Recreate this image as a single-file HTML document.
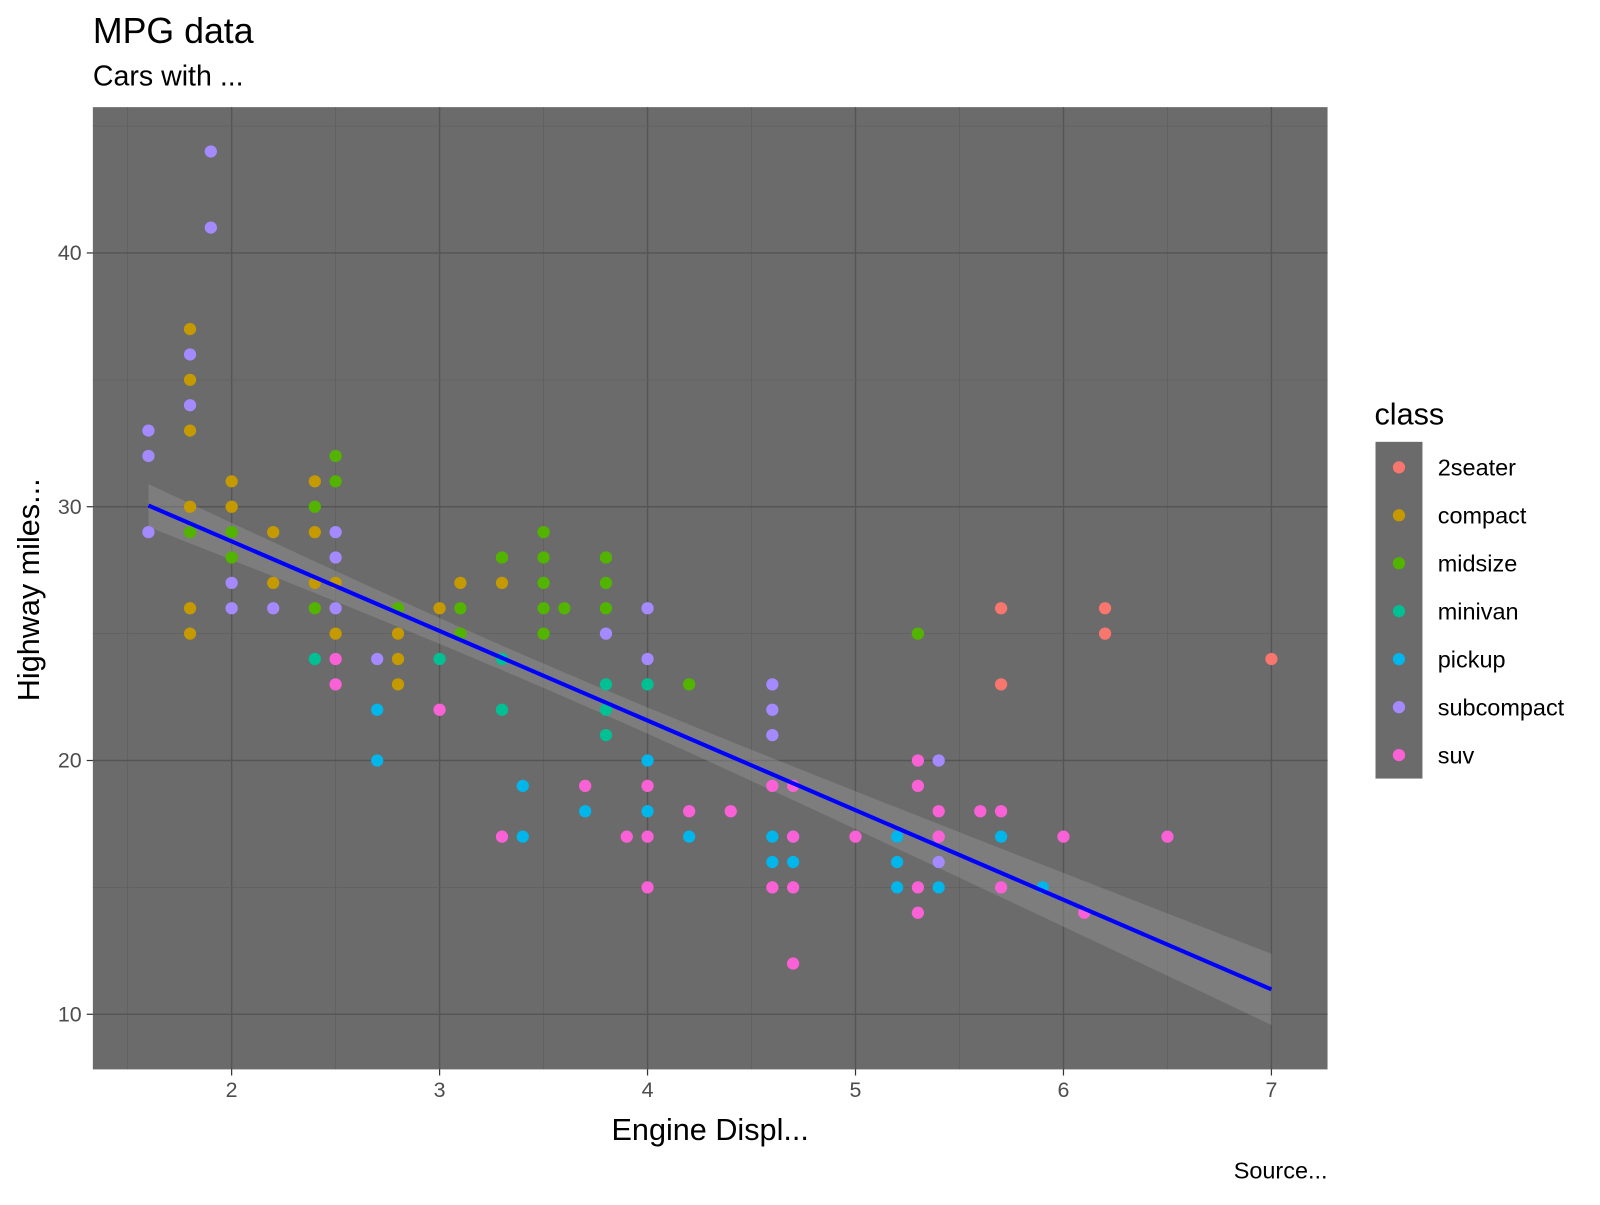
<!DOCTYPE html>
<html><head><meta charset="utf-8"><style>
body{margin:0;background:#fff;font-family:"Liberation Sans",Arial,sans-serif}
svg text{font-family:"Liberation Sans",Arial,sans-serif}
</style></head><body>
<svg id="chart" width="1600" height="1200" viewBox="0 0 1568 1176" xmlns="http://www.w3.org/2000/svg">
<text x="91" y="42" font-size="35" fill="#000">MPG data</text>
<text x="91" y="84" font-size="28" fill="#000">Cars with ...</text>
<rect x="91" y="105" width="1210" height="943" fill="#6b6b6b"/>
<g id="grid"></g>
<g id="band"></g>
<g id="points"></g>
<g id="fit"></g>
<g id="axes"></g>
<text x="696" y="1117" font-size="30" text-anchor="middle" fill="#000">Engine Displ...</text>
<text transform="translate(38,578) rotate(-90)" font-size="30" text-anchor="middle" fill="#000">Highway miles...</text>
<text x="1301" y="1155" font-size="23" text-anchor="end" fill="#000">Source...</text>
<text x="1347" y="416" font-size="30" fill="#000">class</text>
<rect x="1348" y="433" width="46" height="330" fill="#6b6b6b"/>
<g id="legend"></g>
</svg>
<script>
const classes=["2seater","compact","midsize","minivan","pickup","subcompact","suv"];
const colors=["#F8766D","#C49A00","#53B400","#00C094","#00B6EB","#A58AFF","#FB61D7"];
const xTicks=[2,3,4,5,6,7];
const yTicks=[10,20,30,40];
const fitIntercept=35.698, fitSlope=-3.531;
const fitRange=[1.6,7];
const seA=0.48, seB=0.373, meanX=3.47;
const dataSeater=[[5.7,26],[5.7,23],[6.2,26],[6.2,25],[7,24]];
const dataCompact=[[1.8,37],[1.8,35],[1.8,33],[1.8,30],[1.8,26],[1.8,25],[2,31],[2,30],[2.2,29],[2.2,27],[2.4,31],[2.4,29],[2.4,27],[2.5,27],[2.5,25],[2.8,25],[2.8,24],[2.8,23],[3,26],[3.1,27],[3.3,27]];
const dataMidsize=[[1.8,29],[2,29],[2,28],[2.4,30],[2.4,26],[2.5,32],[2.5,31],[2.8,26],[3.1,26],[3.1,25],[3.3,28],[3.5,29],[3.5,28],[3.5,27],[3.5,26],[3.5,25],[3.6,26],[3.8,28],[3.8,27],[3.8,26],[4.2,23],[5.3,25]];
const dataMinivan=[[2.4,24],[3,24],[3.3,22],[3.3,24],[3.8,23],[3.8,22],[3.8,21],[4,23]];
const dataPickup=[[2.7,22],[2.7,20],[3.4,19],[3.4,17],[3.7,18],[4,20],[4,18],[4.2,17],[4.6,17],[4.6,16],[4.7,17],[4.7,16],[5.2,17],[5.2,16],[5.2,15],[5.4,15],[5.7,17],[5.9,15]];
const dataSubcompact=[[1.6,33],[1.6,32],[1.6,29],[1.8,36],[1.8,34],[1.9,44],[1.9,41],[2,27],[2,26],[2.2,26],[2.5,29],[2.5,28],[2.5,26],[2.7,24],[3.8,25],[4,26],[4,24],[4.6,23],[4.6,22],[4.6,21],[5.4,20],[5.4,17],[5.4,16]];
const dataSuv=[[2.5,24],[2.5,23],[3,22],[3.3,17],[3.7,19],[3.9,17],[4,19],[4,17],[4,15],[4.2,18],[4.4,18],[4.6,19],[4.6,15],[4.7,17],[4.7,15],[4.7,12],[4.7,19],[5,17],[5.3,20],[5.3,19],[5.3,15],[5.3,14],[5.4,18],[5.4,17],[5.6,18],[5.7,18],[5.7,15],[6,17],[6.1,14],[6.5,17]];
const series=[dataSeater,dataCompact,dataMidsize,dataMinivan,dataPickup,dataSubcompact,dataSuv];
const NS="http://www.w3.org/2000/svg";
const X=v=>227+(v-2)*203.8, Y=v=>994-(v-10)*24.87;
function mk(t,a,p){const e=document.createElementNS(NS,t);for(const k in a)e.setAttribute(k,a[k]);p.appendChild(e);return e;}
const grid=document.getElementById('grid');
for(let v=1.5;v<=7.01;v+=0.5){const major=Math.abs(v-Math.round(v))<0.01;
 const l=mk('line',{x1:X(v),x2:X(v),y1:105,y2:1048,stroke:major?'#555':'#606060','stroke-width':major?1.4:0.8},grid);
 
 }
for(let v=10;v<=45;v+=5){const major=v%10===0;
 const l=mk('line',{x1:91,x2:1301,y1:Y(v),y2:Y(v),stroke:major?'#555':'#606060','stroke-width':major?1.4:0.8},grid);
 
 }
const axes=document.getElementById('axes');
xTicks.forEach(v=>{const t=mk('text',{x:X(v),y:1075,'font-size':21,fill:'#4d4d4d','text-anchor':'middle'},axes);t.textContent=v;
 
 
 const k=mk('line',{x1:X(v),x2:X(v),y1:1048,y2:1054,stroke:'#333','stroke-width':1.2},axes);
 
 });
yTicks.forEach(v=>{const t=mk('text',{x:80,y:Y(v)+7,'font-size':21,fill:'#4d4d4d','text-anchor':'end'},axes);t.textContent=v;
 
 
 const k=mk('line',{x1:85,x2:91,y1:Y(v),y2:Y(v),stroke:'#333','stroke-width':1.2},axes);
 
 });
const pts=document.getElementById('points');
series.forEach((s,i)=>s.forEach(d=>{const c=mk('circle',{cx:X(d[0]),cy:Y(d[1]),r:6,fill:colors[i]},pts);
 
 }));
const f=x=>fitIntercept+fitSlope*x, se=x=>Math.sqrt(seA*seA+seB*seB*(x-meanX)*(x-meanX));
let up=[],lo=[];
for(let i=0;i<=60;i++){const x=fitRange[0]+(fitRange[1]-fitRange[0])*i/60;up.push(X(x)+','+Y(f(x)+se(x)));lo.unshift(X(x)+','+Y(f(x)-se(x)));}
const b=mk('polygon',{points:up.concat(lo).join(' '),fill:'#999','fill-opacity':0.4},document.getElementById('band'));


const ln=mk('line',{x1:X(fitRange[0]),y1:Y(f(fitRange[0])),x2:X(fitRange[1]),y2:Y(f(fitRange[1])),stroke:'#0000ff','stroke-width':4},document.getElementById('fit'));


const lg=document.getElementById('legend');
classes.forEach((c,i)=>{const y=458+i*47;
 const d=mk('circle',{cx:1371,cy:y,r:6,fill:colors[i]},lg);
 
 
 const t=mk('text',{x:1409,y:y+8,'font-size':23,fill:'#000'},lg);t.textContent=c;
 
 });
</script>
</body></html>
